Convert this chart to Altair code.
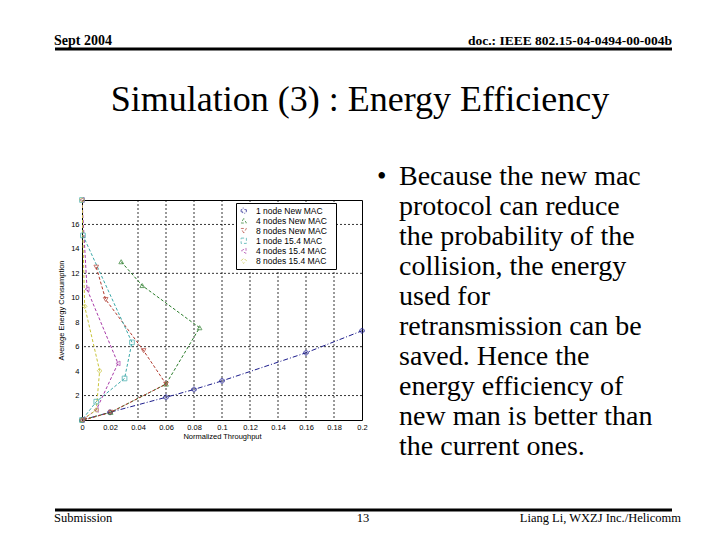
import altair as alt
import pandas as pd

# ---------------- data ----------------
series_names = [
    "1 node     New MAC",
    "4 nodes   New MAC",
    "8 nodes   New MAC",
    "1 node     15.4 MAC",
    "4 nodes   15.4 MAC",
    "8 nodes   15.4 MAC",
]
x_new1 = [0, 0.02, 0.06, 0.08, 0.1, 0.16, 0.2]
y_new1 = [0, 0.63, 1.86, 2.5, 3.2, 5.5, 7.3]
x_new4 = [0.028, 0.043, 0.084, 0.06, 0.0205, 0]
y_new4 = [12.95, 11.0, 7.55, 2.94, 0.63, 0]
x_new8 = [0.0102, 0.0169, 0.044, 0.06, 0.0205, 0.0015]
y_new8 = [12.5, 9.86, 5.67, 2.94, 0.63, 0]
x_old1 = [0, 0.0007, 0.0357, 0.0304, 0.0102, 0]
y_old1 = [18, 15.1, 6.35, 3.4, 1.5, 0]
x_old4 = [0, 0.0036, 0.0257, 0.0102, 0]
y_old4 = [18, 10.7, 4.63, 0.82, 0]
x_old8 = [0, 0.0019, 0.0126, 0.0102, 0]
y_old8 = [18, 9.3, 4.03, 0.82, 0]

x_ticks = [0, 0.02, 0.04, 0.06, 0.08, 0.1, 0.12, 0.14, 0.16, 0.18, 0.2]
y_ticks = [2, 4, 6, 8, 10, 12, 14, 16]
grid_x = [0.04, 0.06, 0.08, 0.1, 0.12, 0.14, 0.16, 0.18]
grid_y = [2, 6, 12, 16]

header_left = "Sept 2004"
header_right = "doc.: IEEE 802.15-04-0494-00-004b"
slide_title = "Simulation (3) : Energy Efficiency"
bullet_lines = [
    "Because the new mac",
    "protocol can reduce",
    "the probability of the",
    "collision, the energy",
    "used for",
    "retransmission can be",
    "saved. Hence the",
    "energy efficiency of",
    "new man is better than",
    "the current ones.",
]
footer_left = "Submission"
footer_mid = "13"
footer_right = "Liang Li, WXZJ Inc./Helicomm"

colors = ["#1c1c8c", "#2a7d2a", "#b03a2e", "#3aa8a8", "#a83aa8", "#c8c43a"]
shapes = ["cross", "triangle-up", "triangle-down", "square", "triangle-left", "diamond"]
dashes = [[5, 2, 1, 2], [3, 2], [3, 2], [3, 2], [3, 2], [3, 2]]

# ---------------- table ----------------
xs = [x_new1, x_new4, x_new8, x_old1, x_old4, x_old8]
ys = [y_new1, y_new4, y_new8, y_old1, y_old4, y_old8]
rows = []
for name, xv, yv in zip(series_names, xs, ys):
    for i, (a, b) in enumerate(zip(xv, yv)):
        rows.append({"series": name, "x": a, "y": b, "idx": i})
df = pd.DataFrame(rows)

OX, OY = 82, 200  # plot origin on page


def px(v):
    return v - OX


def py(v):
    return v - OY


axis_common = dict(grid=False, domain=False, ticks=False, labelPadding=3, labelOverlap=False,
                   labelFontSize=7.5, titleFontSize=7.5, titleFontWeight="normal",
                   labelFont="Liberation Sans", titleFont="Liberation Sans",
                   labelColor="#000", titleColor="#000", labelBound=False, labelFlush=False)
xscale = alt.Scale(domain=[0, 0.2], nice=False)
yscale = alt.Scale(domain=[0, 18], nice=False)
xaxis = alt.Axis(values=x_ticks, format="~g", title="Normalized Throughput",
                 titlePadding=2, **axis_common)
yaxis = alt.Axis(values=y_ticks, title="Average Energy Consumption",
                 titlePadding=5, **axis_common)
xenc = alt.X("x:Q", scale=xscale, axis=xaxis)
yenc = alt.Y("y:Q", scale=yscale, axis=yaxis)
cscale = alt.Scale(domain=series_names, range=colors)
sscale = alt.Scale(domain=series_names, range=shapes)

leg = alt.Legend(title=None, orient="none", legendX=154, legendY=3,
                 strokeColor="#000", fillColor="#fff", padding=3.5,
                 labelFontSize=8.5, labelFont="Liberation Sans",
                 labelColor="#000", symbolSize=28, rowPadding=0,
                 symbolStrokeWidth=1, labelLimit=220, labelOffset=8)

gx = alt.Chart(pd.DataFrame({"x": grid_x})).mark_rule(
    color="#000", strokeWidth=0.8, strokeDash=[2, 2]).encode(x=xenc)
gy = alt.Chart(pd.DataFrame({"y": grid_y})).mark_rule(
    color="#000", strokeWidth=0.8, strokeDash=[2, 2]).encode(y=yenc)

base = alt.Chart(df)
lines = base.mark_line(strokeWidth=1, clip=True).encode(
    x=xenc, y=yenc,
    color=alt.Color("series:N", scale=cscale, legend=leg),
    strokeDash=alt.StrokeDash("series:N", scale=alt.Scale(domain=series_names, range=dashes), legend=None),
    order=alt.Order("idx:Q"),
    detail="series:N",
)
points = base.mark_point(filled=False, size=22, strokeWidth=1).encode(
    x=xenc, y=yenc,
    color=alt.Color("series:N", scale=cscale, legend=leg),
    shape=alt.Shape("series:N", scale=sscale, legend=leg),
)

one = pd.DataFrame({"k": [0]})


def txt(s, x, y, size, align="left", weight="normal", lh=None):
    kw = dict(text=s, font="Liberation Serif", fontSize=size, align=align,
              baseline="alphabetic", fontWeight=weight, color="#000")
    if lh is not None:
        kw["lineHeight"] = lh
    return alt.Chart(one).mark_text(**kw).encode(x=alt.value(px(x)), y=alt.value(py(y)))


def hrule(x1, x2, y, w):
    return alt.Chart(one).mark_rule(color="#000", strokeWidth=w).encode(
        x=alt.value(px(x1)), x2=alt.value(px(x2)), y=alt.value(py(y)))


layers = [
    gx, gy, lines, points,
    txt(header_left, 54, 45, 14, weight="bold"),
    txt(header_right, 672, 45, 13.5, align="right", weight="bold"),
    hrule(55, 672, 49, 3),
    txt(slide_title, 360, 111, 36, align="center"),
    txt("•", 377, 185, 27),
    txt(bullet_lines, 399, 185, 28, lh=30),
    hrule(55, 672, 510, 3),
    txt(footer_left, 54, 522, 12.5),
    txt(footer_mid, 363, 522, 12.5, align="center"),
    txt(footer_right, 681, 522, 12.5, align="right"),
]

chart = alt.layer(*layers).properties(
    width=280, height=220,
    autosize=alt.AutoSizeParams(type="none"),
    padding={"left": OX - 8, "top": OY - 8, "right": 350, "bottom": 120},
    background="#fff",
).configure_view(stroke="#000", strokeWidth=1)

chart.save("out.html", embed_options={"renderer": "svg", "actions": False})
